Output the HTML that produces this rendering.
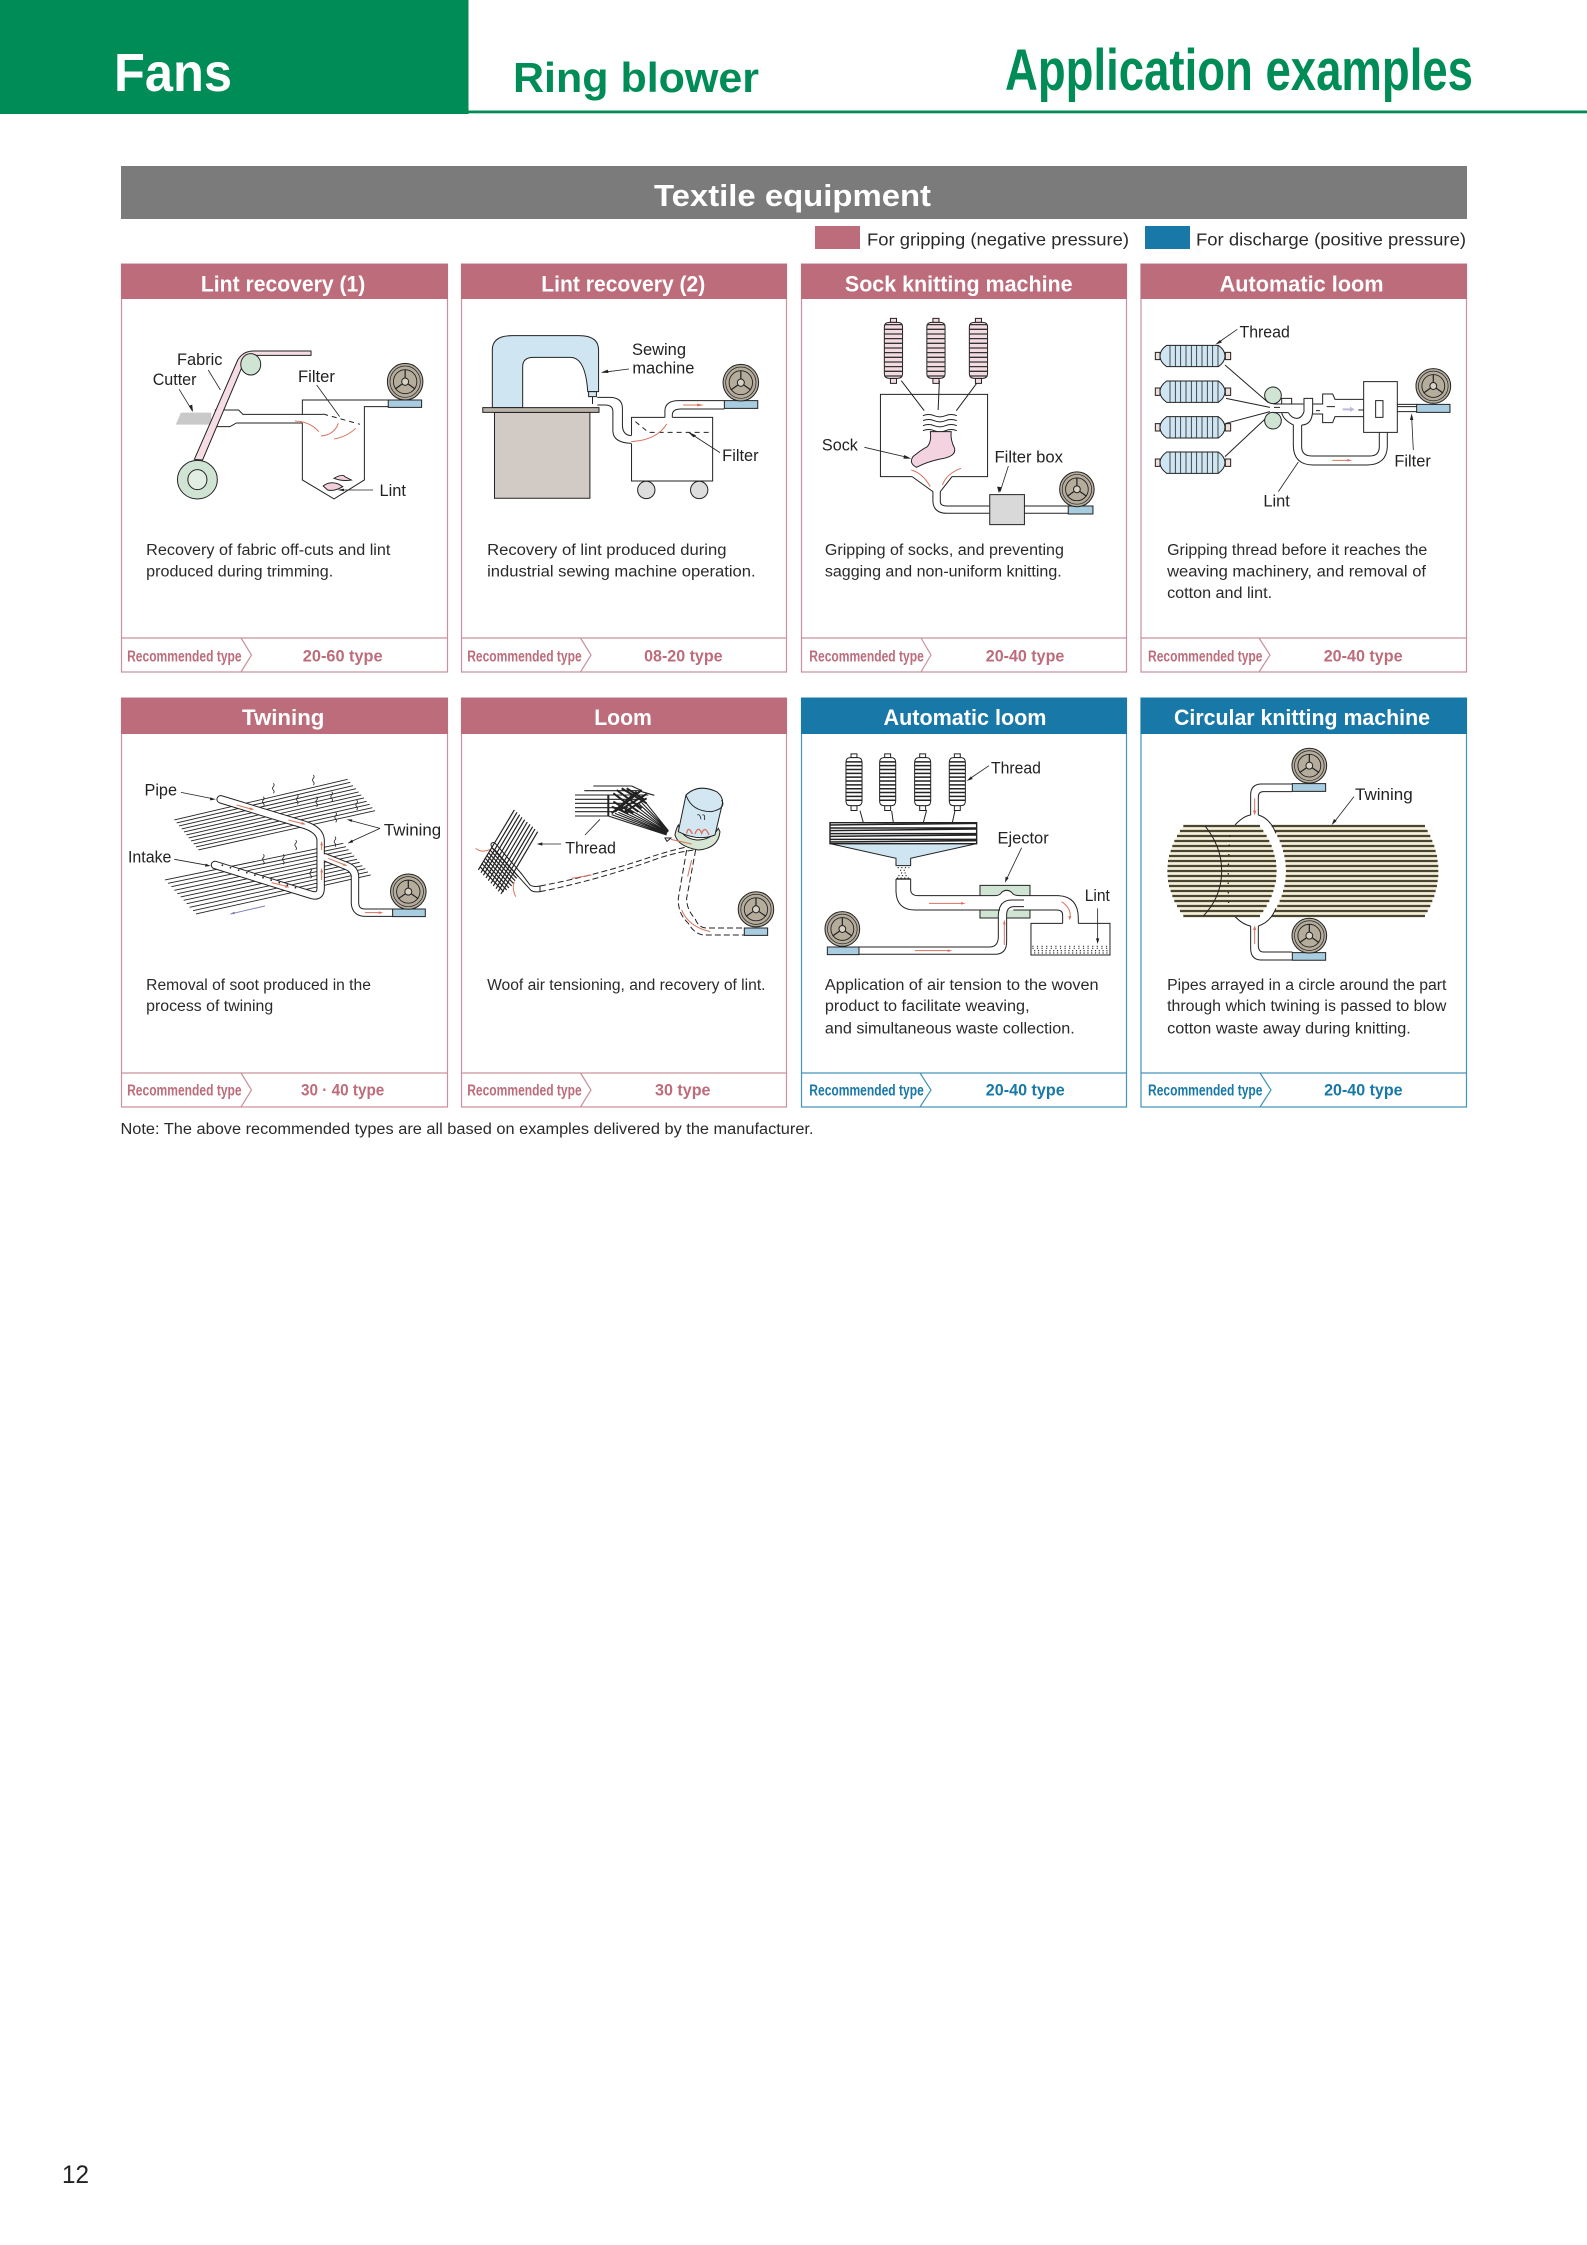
<!DOCTYPE html>
<html lang="en"><head><meta charset="utf-8"><title>Fans - Ring blower - Application examples</title>
<style>
html,body{margin:0;padding:0;background:#fff}
svg{display:block;font-family:"Liberation Sans",sans-serif}
svg *{vector-effect:non-scaling-stroke}
.l{fill:none;stroke:#222;stroke-width:1}
.t{fill:none;stroke:#222;stroke-width:.8}
.d{fill:none;stroke:#222;stroke-width:1;stroke-dasharray:6 3}
.r{fill:none;stroke:#d8735f;stroke-width:1}
.rh{fill:#d8735f;stroke:none}
.k{fill:#222;stroke:none}
.o{stroke:#222;stroke-width:1}
.lab{font-size:16.3px;fill:#222}
.desc{font-size:15.3px;fill:#2a2a2a}
.hd{font-size:21.8px;font-weight:bold;fill:#fff}
.rec{font-size:15.5px;font-weight:bold}
.typ{font-size:16.5px;font-weight:bold}
.pk{fill:#bc6c7a}.bl{fill:#1878a8}
</style></head><body>
<svg xmlns="http://www.w3.org/2000/svg" width="1587" height="2245" viewBox="0 0 1587 2245">
<defs>
<g id="fan">
<ellipse rx="41" ry="55" fill="#b5ac9c" stroke="#222" stroke-width="1"/>
<ellipse rx="35" ry="47" fill="none" stroke="#222" stroke-width=".7"/>
<ellipse rx="27" ry="36" fill="none" stroke="#222" stroke-width=".9"/>
<path d="M0,-36V-10M-23,22L-7,7M23,22L7,7" fill="none" stroke="#222" stroke-width="1.2"/>
<ellipse rx="8" ry="11" fill="#d8d2c4" stroke="#222" stroke-width="1"/>
</g>
<g id="spoolP">
<rect x="-7" y="-96" width="14" height="12" fill="#f4dbe2" class="o"/>
<rect x="-7" y="84" width="14" height="15" fill="#f4dbe2" class="o"/>
<path d="M-21,-70Q-21,-84 -10,-84H10Q21,-84 21,-70V70Q21,84 10,84H-10Q-21,84 -21,70Z" fill="#f4dbe2" class="o"/>
<path d="M-21,-77H21M-21,-63H21M-21,-49H21M-21,-35H21M-21,-21H21M-21,-7H21M-21,7H21M-21,21H21M-21,35H21M-21,49H21M-21,63H21M-21,77H21" fill="none" stroke="#333" stroke-width="1.3"/>
</g>
<g id="spoolW">
<rect x="-7" y="-87" width="14" height="12" fill="#fff" class="o"/>
<rect x="-7" y="75" width="14" height="15" fill="#fff" class="o"/>
<path d="M-19,-60Q-19,-75 -9,-75H9Q19,-75 19,-60V60Q19,75 9,75H-9Q-19,75 -19,60Z" fill="#fff" class="o"/>
<path d="M-19,-62H19M-19,-50H19M-19,-38H19M-19,-26H19M-19,-14H19M-19,-2H19M-19,10H19M-19,22H19M-19,34H19M-19,46H19M-19,58H19" fill="none" stroke="#222" stroke-width="1.5"/>
</g>
<g id="spoolH">
<rect x="16" y="-11" width="14" height="22" fill="#efe0d8" class="o"/>
<rect x="226" y="-11" width="16" height="22" fill="#efe0d8" class="o"/>
<path d="M50,-32H205Q225,-18 225,0Q225,18 205,32H50Q30,18 30,0Q30,-18 50,-32Z" fill="#cfe6f2" class="o"/>
<path d="M60,-32V32M76,-32V32M92,-32V32M108,-32V32M124,-32V32M140,-32V32M156,-32V32M172,-32V32M188,-32V32M204,-32V32" fill="none" stroke="#222" stroke-width=".8"/>
</g>
<path id="sq" d="M0,-15q5,5 0,10q-5,5 0,10q5,5 0,10" fill="none" stroke="#222" stroke-width=".8"/>
</defs>

<!-- page header -->
<rect x="0" y="0" width="468.5" height="114" fill="#008c57"/>
<rect x="468.5" y="110.5" width="1118.5" height="2.8" fill="#008c57"/>
<text x="114" y="91" font-size="54" font-weight="bold" fill="#fff" textLength="118" lengthAdjust="spacingAndGlyphs">Fans</text>
<text x="513" y="92" font-size="42" font-weight="bold" fill="#008c57" textLength="246" lengthAdjust="spacingAndGlyphs">Ring blower</text>
<text x="1005" y="90" font-size="58" font-weight="bold" fill="#008c57" textLength="468" lengthAdjust="spacingAndGlyphs">Application examples</text>

<rect x="121" y="166" width="1346" height="53" fill="#7b7b7b"/>
<text x="654" y="206" font-size="31" font-weight="bold" fill="#fff" textLength="277" lengthAdjust="spacingAndGlyphs">Textile equipment</text>

<rect x="815" y="226" width="45" height="23" fill="#bc6c7a"/>
<text x="867" y="245.5" font-size="17.5" fill="#2a2a2a" textLength="262" lengthAdjust="spacingAndGlyphs">For gripping (negative pressure)</text>
<rect x="1145" y="226" width="45" height="23" fill="#1878a8"/>
<text x="1196" y="245.5" font-size="17.5" fill="#2a2a2a" textLength="270" lengthAdjust="spacingAndGlyphs">For discharge (positive pressure)</text>

<!-- cards -->
<g fill="#fff" stroke="#c9919e" stroke-width="1.2">
<rect x="121.5" y="264" width="326" height="408"/><rect x="461.5" y="264" width="325" height="408"/>
<rect x="801.5" y="264" width="325" height="408"/><rect x="1141" y="264" width="325.5" height="408"/>
<rect x="121.5" y="698" width="326" height="409"/><rect x="461.5" y="698" width="325" height="409"/>
</g>
<g fill="#fff" stroke="#4494ba" stroke-width="1.2">
<rect x="801.5" y="698" width="325" height="409"/><rect x="1141" y="698" width="325.5" height="409"/>
</g>
<g fill="#bc6c7a">
<rect x="121" y="264" width="327" height="35"/><rect x="461" y="264" width="326" height="35"/>
<rect x="801" y="264" width="326" height="35"/><rect x="1140.5" y="264" width="326.5" height="35"/>
<rect x="121" y="698" width="327" height="36"/><rect x="461" y="698" width="326" height="36"/>
</g>
<g fill="#1878a8">
<rect x="801" y="698" width="326" height="36"/><rect x="1140.5" y="698" width="326.5" height="36"/>
</g>
<g fill="none" stroke="#c9919e" stroke-width="1.2">
<path d="M121.5,638H447.5M461.5,638H786.5M801.5,638H1126.5M1141,638H1466.5M121.5,1073H447.5M461.5,1073H786.5"/>
<path d="M241,638L251.5,655L241,672M580.5,638L591,655L580.5,672M921,638L931,655L921,672M1259,638L1270,655L1259,672M241,1073L251.5,1090L241,1107M580.5,1073L591,1090L580.5,1107"/>
</g>
<g fill="none" stroke="#4494ba" stroke-width="1.2">
<path d="M801.5,1073H1126.5M1141,1073H1466.5M920,1073L931,1090L920,1107M1260,1073L1271,1090L1260,1107"/>
</g>

<!-- headers -->
<text class="hd" x="200.9" y="291.7" textLength="164.4" lengthAdjust="spacingAndGlyphs">Lint recovery (1)</text>
<text class="hd" x="541.3" y="291.7" textLength="164" lengthAdjust="spacingAndGlyphs">Lint recovery (2)</text>
<text class="hd" x="844.9" y="291.7" textLength="227.7" lengthAdjust="spacingAndGlyphs">Sock knitting machine</text>
<text class="hd" x="1219.6" y="291.7" textLength="164" lengthAdjust="spacingAndGlyphs">Automatic loom</text>
<text class="hd" x="242" y="725" textLength="82.4" lengthAdjust="spacingAndGlyphs">Twining</text>
<text class="hd" x="594.2" y="725" textLength="57.7" lengthAdjust="spacingAndGlyphs">Loom</text>
<text class="hd" x="883.5" y="725" textLength="163" lengthAdjust="spacingAndGlyphs">Automatic loom</text>
<text class="hd" x="1174" y="725" textLength="256" lengthAdjust="spacingAndGlyphs">Circular knitting machine</text>

<!-- descriptions -->
<g>
<text class="desc" x="146.2" y="555" textLength="244.2" lengthAdjust="spacingAndGlyphs">Recovery of fabric off-cuts and lint</text>
<text class="desc" x="146.2" y="576.7" textLength="187" lengthAdjust="spacingAndGlyphs">produced during trimming.</text>
<text class="desc" x="487.1" y="555" textLength="239.4" lengthAdjust="spacingAndGlyphs">Recovery of lint produced during</text>
<text class="desc" x="487.1" y="576.7" textLength="268.5" lengthAdjust="spacingAndGlyphs">industrial sewing machine operation.</text>
<text class="desc" x="824.9" y="555" textLength="239" lengthAdjust="spacingAndGlyphs">Gripping of socks, and preventing</text>
<text class="desc" x="824.9" y="576.7" textLength="236.8" lengthAdjust="spacingAndGlyphs">sagging and non-uniform knitting.</text>
<text class="desc" x="1167.1" y="555" textLength="260.2" lengthAdjust="spacingAndGlyphs">Gripping thread before it reaches the</text>
<text class="desc" x="1167.1" y="576.7" textLength="258.9" lengthAdjust="spacingAndGlyphs">weaving machinery, and removal of</text>
<text class="desc" x="1167.1" y="598" textLength="105" lengthAdjust="spacingAndGlyphs">cotton and lint.</text>
<text class="desc" x="146.2" y="990" textLength="224.7" lengthAdjust="spacingAndGlyphs">Removal of soot produced in the</text>
<text class="desc" x="146.2" y="1011" textLength="127" lengthAdjust="spacingAndGlyphs">process of twining</text>
<text class="desc" x="487.1" y="990" textLength="278.4" lengthAdjust="spacingAndGlyphs">Woof air tensioning, and recovery of lint.</text>
<text class="desc" x="824.9" y="990" textLength="273.7" lengthAdjust="spacingAndGlyphs">Application of air tension to the woven</text>
<text class="desc" x="824.9" y="1011" textLength="204.7" lengthAdjust="spacingAndGlyphs">product to facilitate weaving,</text>
<text class="desc" x="824.9" y="1033.3" textLength="249.8" lengthAdjust="spacingAndGlyphs">and simultaneous waste collection.</text>
<text class="desc" x="1167.1" y="990" textLength="279.3" lengthAdjust="spacingAndGlyphs">Pipes arrayed in a circle around the part</text>
<text class="desc" x="1167.1" y="1011" textLength="279.3" lengthAdjust="spacingAndGlyphs">through which twining is passed to blow</text>
<text class="desc" x="1167.1" y="1033.3" textLength="243.7" lengthAdjust="spacingAndGlyphs">cotton waste away during knitting.</text>
</g>

<!-- recommended -->
<g class="rec pk">
<text x="127.1" y="661.7" textLength="114.5" lengthAdjust="spacingAndGlyphs">Recommended type</text>
<text x="467.2" y="661.7" textLength="114.5" lengthAdjust="spacingAndGlyphs">Recommended type</text>
<text x="809.3" y="661.7" textLength="114.5" lengthAdjust="spacingAndGlyphs">Recommended type</text>
<text x="1148" y="661.7" textLength="114.5" lengthAdjust="spacingAndGlyphs">Recommended type</text>
<text x="127.1" y="1095.7" textLength="114.5" lengthAdjust="spacingAndGlyphs">Recommended type</text>
<text x="467.2" y="1095.7" textLength="114.5" lengthAdjust="spacingAndGlyphs">Recommended type</text>
</g>
<g class="rec bl">
<text x="809.3" y="1095.7" textLength="114.5" lengthAdjust="spacingAndGlyphs">Recommended type</text>
<text x="1148" y="1095.7" textLength="114.5" lengthAdjust="spacingAndGlyphs">Recommended type</text>
</g>
<g class="typ pk">
<text x="302.8" y="661.7" textLength="79.8" lengthAdjust="spacingAndGlyphs">20-60 type</text>
<text x="644.1" y="661.7" textLength="78.5" lengthAdjust="spacingAndGlyphs">08-20 type</text>
<text x="985.8" y="661.7" textLength="78.5" lengthAdjust="spacingAndGlyphs">20-40 type</text>
<text x="1323.7" y="661.7" textLength="78.9" lengthAdjust="spacingAndGlyphs">20-40 type</text>
<text x="301" y="1095.7" textLength="83.3" lengthAdjust="spacingAndGlyphs">30 · 40 type</text>
<text x="655" y="1095.7" textLength="55.5" lengthAdjust="spacingAndGlyphs">30 type</text>
</g>
<g class="typ bl">
<text x="985.8" y="1095.7" textLength="78.9" lengthAdjust="spacingAndGlyphs">20-40 type</text>
<text x="1324.1" y="1095.7" textLength="78.5" lengthAdjust="spacingAndGlyphs">20-40 type</text>
</g>

<!-- CARD 1 & 2 -->
<g transform="translate(115,260) scale(.4337,.3333)">
<polygon points="140,494 152,458 222,458 222,494" fill="#c9c9c9"/>
<path class="l" d="M230,450H285L295,463H480M232,500H265L280,489H432M432,489V660L505,717L575,660V440H630M432,463V420H630"/>
<path class="l" style="stroke-dasharray:5 4" d="M480,462L565,493"/>
<path d="M183,598L283,300Q295,273 320,273H452V286H320Q305,286 298,305L202,600Z" fill="#f5dde3" class="o"/>
<ellipse cx="313" cy="313" rx="23" ry="32" fill="#cfe4d3" class="o"/>
<ellipse cx="190" cy="659" rx="46" ry="58" fill="#cfe4d3" class="o"/>
<ellipse cx="190" cy="659" rx="22" ry="30" fill="#e3eee2" class="o"/>
<rect x="630" y="420" width="77" height="22" fill="#a9cde0" class="o"/>
<use href="#fan" transform="translate(669,365)"/>
<path class="r" d="M415,483Q450,485 470,515M475,528Q505,525 515,490M505,537Q535,530 555,505"/>
<path d="M505,655Q525,640 530,650L545,660Q525,665 505,655ZM480,678Q495,662 515,672L525,680Q505,695 490,690Z" fill="#f3cfdc" class="o"/>
<path class="t" d="M215,330L243,390M148,388L178,452M465,375L518,470M595,690H520"/>
<polygon class="k" points="513,690 528,686 528,694"/>
<polygon class="k" points="180,456 170,438 178,434"/>

<path d="M870,443V270Q870,227 915,227H1070Q1115,227 1115,270V395H1090Q1085,292 1050,292H965Q940,292 940,320V443Z" fill="#cfe6f2" class="o"/>
<rect x="1092" y="395" width="18" height="15" fill="#cfe6f2" class="o"/>
<path class="l" d="M1101,410V432"/>
<rect x="875" y="457" width="220" height="258" fill="#d2cac5" class="o"/>
<rect x="848" y="443" width="268" height="14" fill="#b9b2a8" class="o"/>
<path class="l" d="M1112,412H1140Q1170,412 1170,445V495Q1170,525 1190,527M1112,435H1130Q1148,435 1148,455V515Q1150,548 1190,550"/>
<path class="l" d="M1191,527V472H1268M1285,472H1378V663H1191V550M1268,472V450Q1270,422 1300,422H1405M1285,472V465Q1285,447 1305,447H1405"/>
<path class="l" style="stroke-dasharray:5 4" d="M1200,485L1230,517H1378"/>
<path class="r" d="M1190,545Q1250,540 1272,492M1310,435H1350"/>
<polygon class="rh" points="1358,435 1342,431 1342,439"/>
<rect x="1405" y="422" width="77" height="23" fill="#a9cde0" class="o"/>
<use href="#fan" transform="translate(1443,368)"/>
<ellipse cx="1225" cy="690" rx="20" ry="26" fill="#ddd" class="o"/>
<ellipse cx="1347" cy="690" rx="20" ry="26" fill="#ddd" class="o"/>
<path class="t" d="M1185,327L1125,337M1395,578L1325,519"/>
<polygon class="k" points="1120,338 1136,329 1138,339"/>
<polygon class="k" points="1320,515 1340,526 1334,532"/>
</g>
<g>
<text class="lab" x="177" y="365" textLength="45.5" lengthAdjust="spacingAndGlyphs">Fabric</text>
<text class="lab" x="152.7" y="385" textLength="43.8" lengthAdjust="spacingAndGlyphs">Cutter</text>
<text class="lab" x="298" y="382" textLength="36.9" lengthAdjust="spacingAndGlyphs">Filter</text>
<text class="lab" x="379.5" y="496" textLength="26.5" lengthAdjust="spacingAndGlyphs">Lint</text>
<text class="lab" x="632" y="355" textLength="54" lengthAdjust="spacingAndGlyphs">Sewing</text>
<text class="lab" x="632.4" y="373.3" textLength="62" lengthAdjust="spacingAndGlyphs">machine</text>
<text class="lab" x="722.2" y="461" textLength="36.4" lengthAdjust="spacingAndGlyphs">Filter</text>
</g>

<!-- CARD 3 -->
<g transform="translate(795,260) scale(.4337,.3333)">
<path class="l" d="M245,362L298,452M333,362L330,450M420,368L372,452"/>
<use href="#spoolP" transform="translate(227,271)"/>
<use href="#spoolP" transform="translate(325,271)"/>
<use href="#spoolP" transform="translate(423,271)"/>
<path class="l" d="M270,650H197V403H444V650H362L335,695V725Q335,738 350,738H448M270,650L318,695V725Q320,760 350,760H448"/>
<path class="l" d="M295,467q13,-7 26,0t26,0t26,0M295,482q13,-7 26,0t26,0t26,0M295,497q13,-7 26,0t26,0t26,0M295,512q13,-7 26,0t26,0t26,0"/>
<path d="M312,515H360Q358,540 368,565Q372,590 335,597Q305,605 280,622Q262,610 272,590Q290,570 305,560Q315,545 312,515Z" fill="#f3d3e0" class="o"/>
<path class="r" d="M268,630Q295,640 312,680M383,625Q350,640 340,675"/>
<rect x="449" y="704" width="80" height="90" fill="#d9d9d9" class="o"/>
<path class="l" d="M529,738H630M529,760H630"/>
<rect x="630" y="738" width="57" height="24" fill="#a9cde0" class="o"/>
<use href="#fan" transform="translate(650,688) scale(.97,.95)"/>
<path class="t" d="M160,562L262,593M492,618L473,695"/>
<polygon class="k" points="268,596 250,596 252,585"/>
<polygon class="k" points="470,699 466,680 477,682"/>
</g>
<text class="lab" x="821.9" y="450.7" textLength="36" lengthAdjust="spacingAndGlyphs">Sock</text>
<text class="lab" x="994.5" y="462.7" textLength="68.5" lengthAdjust="spacingAndGlyphs">Filter box</text>

<!-- CARD 4 -->
<g transform="translate(1150,310) scale(.3333)">
<path class="l" d="M225,165L355,278M228,265L360,292M228,340L360,305M225,440L355,318"/>
<use href="#spoolH" transform="translate(0,138)"/>
<use href="#spoolH" transform="translate(0,245)"/>
<use href="#spoolH" transform="translate(0,352)"/>
<use href="#spoolH" transform="translate(0,458)"/>
<circle cx="369" cy="256" r="25" fill="#cfe4d3" class="o"/>
<circle cx="369" cy="332" r="25" fill="#cfe4d3" class="o"/>
<path class="l" d="M370,282H460M395,282V265H425V282M370,308H415M415,308Q425,325 440,325Q455,325 462,305V265H488V305Q485,345 455,345M395,308Q400,330 430,345V405Q430,465 490,465H650Q710,465 712,410V368M455,345V410Q455,438 485,438H660Q688,438 688,410V368"/>
<path class="l" d="M488,282H518V252H548L555,268H640M488,312H518V338H548L555,320H640"/>
<path class="l" d="M372,292H390M498,302H510M530,290H555M625,300H655"/>
<rect x="641" y="215" width="101" height="152" fill="#fff" class="o"/>
<rect x="677" y="272" width="22" height="50" fill="#fff" class="o"/>
<path class="l" d="M742,283H800M742,305H800M742,290H800"/>
<rect x="800" y="283" width="100" height="24" fill="#a9cde0" class="o"/>
<use href="#fan" transform="translate(850,228) scale(1.27,.95)"/>
<path d="M578,295H600V290L614,298L600,306V301H578Z" fill="#bdb9d6"/>
<path class="r" d="M547,451H598"/>
<polygon class="rh" points="606,451 592,447 592,455"/>
<path class="t" d="M262,58L203,99M790,420L785,320M385,545L445,456"/>
<polygon class="k" points="196,104 210,90 216,97"/>
<polygon class="k" points="785,310 780,330 790,330"/>
</g>
<text class="lab" x="1239.5" y="337.3" textLength="50.3" lengthAdjust="spacingAndGlyphs">Thread</text>
<text class="lab" x="1394.4" y="466.7" textLength="36.4" lengthAdjust="spacingAndGlyphs">Filter</text>
<text class="lab" x="1263.4" y="506.7" textLength="26.5" lengthAdjust="spacingAndGlyphs">Lint</text>

<!-- CARD 5 Twining -->
<g transform="translate(125,760) scale(.3333)">
<path fill="none" stroke="#222" stroke-width=".9" d="M148,180L668,58M155,189L676,67M162,198L684,77M170,207L693,86M177,216L701,96M184,225L709,105M191,234L717,114M198,243L725,124M206,252L734,133M213,261L742,143M220,270L750,152"/>
<path fill="none" stroke="#222" stroke-width=".9" d="M120,360L655,250M129,370L663,260M139,380L671,269M148,391L680,279M157,401L688,288M167,411L696,298M176,421L704,307M185,431L712,317M194,442L721,326M204,452L729,336M213,462L737,345"/>
<g fill="none" stroke-linecap="round" stroke-linejoin="round">
<path stroke="#222" stroke-width="8.4" d="M287,118L540,195Q585,210 587,240V385Q587,412 560,405L270,315"/>
<path stroke="#222" stroke-width="8.4" d="M600,292L665,318Q690,328 690,350V430Q692,458 720,458H803"/>
<path stroke="#fff" stroke-width="6.4" d="M287,118L540,195Q585,210 587,240V385Q587,412 560,405L270,315"/>
<path stroke="#fff" stroke-width="6.4" d="M600,292L665,318Q690,328 690,350V430Q692,458 720,458H803"/>
</g>
<path fill="none" stroke="#222" stroke-width="1.6" stroke-dasharray="1.5 7" d="M290,315L525,387"/>
<path class="r" d="M335,135L378,147M490,180L533,191M590,270V252M590,360V332M610,295L660,315M440,368L484,379M720,458H765"/>
<polygon class="rh" points="388,149 374,150 376,142"/>
<polygon class="rh" points="543,193 529,194 531,186"/>
<polygon class="rh" points="590,243 586,256 594,256"/>
<polygon class="rh" points="590,324 586,337 594,337"/>
<polygon class="rh" points="668,318 654,317 657,310"/>
<polygon class="rh" points="494,382 480,383 482,375"/>
<polygon class="rh" points="775,458 761,454 761,462"/>
<path fill="none" stroke="#7d7db5" stroke-width="1" d="M420,438L325,460"/>
<polygon fill="#7d7db5" points="313,463 328,455 330,462"/>
<use href="#sq" x="445" y="85"/><use href="#sq" x="565" y="60"/><use href="#sq" x="415" y="125"/>
<use href="#sq" x="517" y="118"/><use href="#sq" x="575" y="125"/><use href="#sq" x="620" y="110"/>
<use href="#sq" x="695" y="135"/><use href="#sq" x="632" y="172"/><use href="#sq" x="512" y="255"/>
<use href="#sq" x="415" y="298"/><use href="#sq" x="475" y="298"/><use href="#sq" x="630" y="245"/>
<use href="#sq" x="557" y="340"/>
<rect x="803" y="447" width="98" height="23" fill="#a9cde0" class="o"/>
<use href="#fan" transform="translate(850,395) scale(1.3,.96)"/>
<path class="t" d="M168,97L262,116M765,205L675,181M765,205L678,245M148,298L248,316"/>
<polygon class="k" points="272,118 255,121 256,112"/>
<polygon class="k" points="665,178 682,178 680,186"/>
<polygon class="k" points="668,250 681,239 685,247"/>
<polygon class="k" points="257,318 240,320 242,311"/>
</g>
<text class="lab" x="144.5" y="795.7" textLength="32.5" lengthAdjust="spacingAndGlyphs">Pipe</text>
<text class="lab" x="383.9" y="835.7" textLength="57.2" lengthAdjust="spacingAndGlyphs">Twining</text>
<text class="lab" x="128" y="862.7" textLength="43.4" lengthAdjust="spacingAndGlyphs">Intake</text>

<!-- CARD 6 Loom -->
<g transform="translate(465,770) scale(.3333)">
<path fill="none" stroke="#222" stroke-width="1.2" d="M148,120L40,300M156,127L48,308M164,134L55,316M171,142L63,324M179,149L70,332M187,156L78,340M195,163L85,348M203,170L93,356M210,177L100,364M218,185L108,372"/>
<path fill="none" stroke="#222" stroke-width="1.2" d="M80,232L160,320M75,240L155,325M70,248L150,332M65,256L145,340M60,264L140,348M55,272L132,354M50,280L125,360M45,290L116,365"/>
<path d="M78,222Q85,212 95,225L170,312L195,345Q205,352 225,348V365Q203,368 195,358L165,325L90,240Q78,235 78,222Z" fill="none" stroke="#222" stroke-width="1"/>
<path class="d" d="M225,348Q400,315 560,260Q620,240 690,225M225,365Q400,330 580,265Q640,245 690,240"/>
<path fill="none" stroke="#222" stroke-width="1.1" d="M385,48H500M358,62H520M330,75H550M330,88H530M330,100H515M330,113H490M330,125H450M330,138H430M500,48L530,62M520,62L568,76"/>
<path fill="none" stroke="#222" stroke-width="2" d="M430,75V138M445,70L520,125M455,60L530,115M470,55L545,100M485,55L540,90M440,130L515,65M450,125L530,60M465,120L545,72M480,125L545,85M445,95L505,130M440,110L490,130"/>
<path fill="none" stroke="#222" stroke-width="1.1" d="M430,138L605,195M440,134L605,193M450,130L605,191M460,127L606,190M470,124L607,188M480,120L607,187M490,116L608,186M500,110L610,185M510,105L610,184M520,100L610,183M530,98L610,182M540,95L610,182"/>
<path d="M640,165Q632,180 630,195Q640,230 700,240Q760,235 765,185L760,175Q740,210 695,210Q650,205 640,165Z" fill="#d6e6d2" class="o"/>
<path d="M663,75Q700,40 755,65Q780,85 770,110L750,195Q700,215 640,185Z" fill="#d2e7f2" class="o"/>
<path class="l" d="M663,75Q680,125 740,125Q785,115 770,90"/>
<path d="M665,190Q670,165 682,192M690,192Q700,165 710,190Q720,165 732,195" fill="none" stroke="#d8735f" stroke-width="1.4"/>
<path class="t" d="M697,135Q705,130 708,148M712,135Q722,132 718,150"/>
<polygon points="600,204 618,204 606,214" fill="#fff" class="o"/>
<path class="r" d="M618,208L680,222M32,235Q50,250 75,238M148,335Q140,355 152,380M320,325L380,315M680,270L668,320M650,420Q670,470 735,485"/>
<path class="d" d="M665,240L640,385Q638,430 670,460Q690,495 720,495H838M692,240L665,385Q665,420 690,445Q700,474 725,474H838"/>
<rect x="838" y="474" width="70" height="22" fill="#a9cde0" class="o"/>
<use href="#fan" transform="translate(873,418) scale(1.3,.96)"/>
<path class="t" d="M288,222H225M360,195L405,148"/>
<polygon class="k" points="215,222 232,217 232,227"/>
</g>
<text class="lab" x="565.2" y="853.3" textLength="50.7" lengthAdjust="spacingAndGlyphs">Thread</text>

<!-- CARD 7 -->
<g transform="translate(815,745) scale(.3333)">
<use href="#spoolW" transform="translate(117,110) scale(1.27,.96)"/>
<use href="#spoolW" transform="translate(218,110) scale(1.27,.96)"/>
<use href="#spoolW" transform="translate(323,110) scale(1.27,.96)"/>
<use href="#spoolW" transform="translate(427,110) scale(1.27,.96)"/>
<path class="l" d="M135,197L145,233M230,197L235,233M335,195L325,233M420,197L412,233"/>
<path d="M45,296L243,340V362H287V340L485,296Z" fill="#cfe6f2" class="o"/>
<rect x="45" y="233" width="440" height="63" fill="#fff" stroke="#222" stroke-width="1.4"/>
<path fill="none" stroke="#222" stroke-width="1.5" d="M45,240L485,235M45,249H485M45,257L485,252M45,266H485M45,274L485,270M45,283H485M45,291L485,287"/>
<path fill="none" stroke="#333" stroke-width="1.2" stroke-dasharray="1.2 2.4" d="M248,368H283M255,376H277M258,384H272M250,392H280M246,399H284"/>
<rect x="495" y="421" width="150" height="98" fill="#cfe4d3" class="o"/>
<path d="M243,402H287V435Q288,452 310,452H540Q555,452 560,442Q575,430 590,442Q595,452 615,452H730Q790,455 790,535H743V510Q743,495 725,495H300Q245,495 243,440Z" fill="#fff"/>
<path d="M132,606H525Q550,605 550,575V510Q552,465 590,465H627V485H598Q575,485 575,510V590Q575,628 540,628H132Z" fill="#fff"/>
<path class="l" d="M243,402V440Q245,495 300,495H555M287,402V435Q288,452 310,452H540Q555,452 560,442Q575,430 590,442Q595,452 615,452H730Q790,455 790,520V535M595,495H725Q743,495 743,510V535"/>
<path fill="none" stroke="#222" stroke-width="1.4" d="M243,402H287"/>
<path class="l" d="M132,606H525Q550,605 550,575V510Q552,465 590,465H627M132,628H540Q575,628 575,590V510Q575,485 598,485H627"/>
<path class="l" d="M743,535H648V630H885V535H790"/>
<path fill="none" stroke="#333" stroke-width="1.2" stroke-dasharray="1.2 3.4" d="M652,604H882M652,610H882"/>
<path fill="none" stroke="#333" stroke-width="1.2" stroke-dasharray="1.2 2.6" stroke-dashoffset="2" d="M652,617H882M652,624H882"/>
<rect x="37" y="606" width="95" height="23" fill="#a9cde0" class="o"/>
<use href="#fan" transform="translate(82,552) scale(1.27,.95)"/>
<path class="r" d="M342,475H440M300,617H400M568,600V535M740,470Q770,490 765,518"/>
<polygon class="rh" points="452,475 438,471 438,479"/>
<polygon class="rh" points="412,617 398,613 398,621"/>
<polygon class="rh" points="568,524 564,538 572,538"/>
<polygon class="rh" points="764,526 760,513 769,514"/>
<path class="t" d="M522,62L463,102M620,308L574,404M848,490V585"/>
<polygon class="k" points="455,108 468,94 473,102"/>
<polygon class="k" points="570,413 572,395 581,399"/>
<polygon class="k" points="848,597 843,580 853,580"/>
</g>
<text class="lab" x="991" y="773.3" textLength="49.9" lengthAdjust="spacingAndGlyphs">Thread</text>
<text class="lab" x="997.5" y="843.3" textLength="51.2" lengthAdjust="spacingAndGlyphs">Ejector</text>
<text class="lab" x="1084.7" y="901" textLength="25.2" lengthAdjust="spacingAndGlyphs">Lint</text>

<!-- CARD 8 -->
<g transform="translate(1150,740) scale(.3333)">
<path d="M100,258Q4,393 100,528H330Q430,393 330,258Z" fill="#f5f0da"/>
<path d="M365,258Q451,393 365,528H825Q905,393 825,258Z" fill="#f5f0da"/>
<path fill="none" stroke="#4a4632" stroke-width="2.2" d="M100,258H330M90,273H340M81,288H350M73,303H358M67,318H365M62,333H370M57,348H374M54,363H378M53,378H379M52,393H380M53,408H379M54,423H378M57,438H374M62,453H370M67,468H365M73,483H358M81,498H350M90,513H340M100,528H330"/>
<path fill="none" stroke="#4a4632" stroke-width="2.2" d="M365,258H825M374,273H833M382,288H841M389,303H847M395,318H853M399,333H857M403,348H861M406,363H863M407,378H865M408,393H865M407,408H865M406,423H863M403,438H861M399,453H857M395,468H853M389,483H847M382,498H841M374,513H833M365,528H825"/>
<path class="l" d="M165,258Q215,320 215,393Q215,470 160,528"/>
<path fill="none" stroke="#222" stroke-width="1.3" stroke-dasharray="1.5 8" d="M240,285Q232,390 236,495"/>
<path class="l" d="M255,255Q280,228 302,225M325,225Q360,235 378,280M255,530Q280,555 302,558M325,558Q360,548 378,505"/>
<path class="l" d="M302,225V165Q302,132 335,132H427M325,225V172Q325,155 340,155H427M302,558V625Q302,660 335,660H427M325,558V615Q325,636 340,636H427"/>
<rect x="427" y="131" width="100" height="23" fill="#a9cde0" class="o"/>
<rect x="427" y="638" width="100" height="23" fill="#a9cde0" class="o"/>
<use href="#fan" transform="translate(478,77) scale(1.27,.95)"/>
<use href="#fan" transform="translate(478,587) scale(1.27,.95)"/>
<path class="r" d="M314,175V215M314,612V566"/>
<polygon class="rh" points="314,226 309,212 319,212"/>
<polygon class="rh" points="314,556 309,570 319,570"/>
<path class="t" d="M612,170L552,247"/>
<polygon class="k" points="545,255 552,237 560,243"/>
</g>
<text class="lab" x="1355" y="800" textLength="57.7" lengthAdjust="spacingAndGlyphs">Twining</text>

<!-- footer -->
<text x="120.5" y="1134" font-size="15.5" fill="#2a2a2a" textLength="693" lengthAdjust="spacingAndGlyphs">Note: The above recommended types are all based on examples delivered by the manufacturer.</text>
<text x="62" y="2183" font-size="25" fill="#222" textLength="27" lengthAdjust="spacingAndGlyphs">12</text>
</svg>
</body></html>
